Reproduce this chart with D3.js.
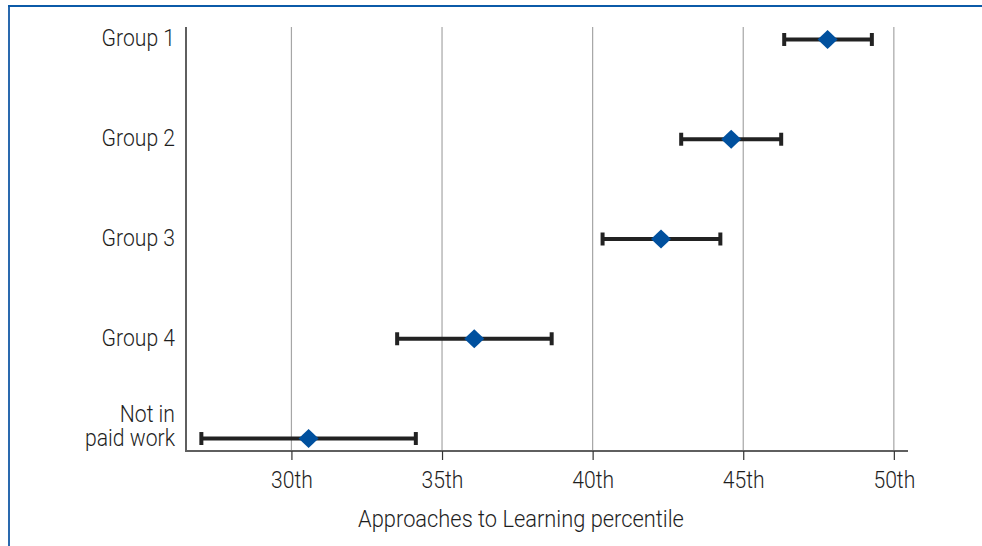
<!DOCTYPE html>
<html>
<head>
<meta charset="utf-8">
<script src="https://cdn.jsdelivr.net/npm/d3@7"></script>
<style>
  html, body { margin: 0; padding: 0; background: #fff; }
  svg { display: block; }
  text { font-family: Roboto, "Open Sans", sans-serif; font-weight: 300; fill: #1e1e1e; }
</style>
</head>
<body>
<svg id="chart" width="982" height="546"></svg>
<script>
// Groups, top to bottom (labels may wrap onto two lines)
const groups = ["Group 1", "Group 2", "Group 3", "Group 4", "Not in\npaid work"];
// Point estimate and confidence interval (percentile)
const estimates = [47.8, 44.6, 42.27, 36.07, 30.57];
const lowerBounds = [46.36, 42.94, 40.33, 33.51, 27.01];
const upperBounds = [49.27, 46.26, 44.24, 38.64, 34.13];
// Axis ticks
const tickValues = [30, 35, 40, 45, 50];
const tickLabels = ["30th", "35th", "40th", "45th", "50th"];
const xTitle = "Approaches to Learning percentile";

const rows = groups.map((g, i) => ({
  group: g, est: estimates[i], lo: lowerBounds[i], hi: upperBounds[i]
}));

const svg = d3.select("#chart");
const plot = { left: 186, right: 908, top: 27, bottom: 451 };
const fontSize = 23;
const narrow = "scale(0.92,1)";   // condensed look for the labels

const x = d3.scaleLinear()
  .domain([26.5, 50.47])
  .range([plot.left, plot.right]);
const y = d3.scalePoint()
  .domain(groups)
  .range([plot.top, plot.bottom])
  .padding(0.125);

// Frame lines on the left and top edges
svg.append("line")
  .attr("x1", 9).attr("x2", 9).attr("y1", 5).attr("y2", 546)
  .attr("stroke", "#2a69ae").attr("stroke-width", 2);
svg.append("line")
  .attr("x1", 8).attr("x2", 982).attr("y1", 6).attr("y2", 6)
  .attr("stroke", "#0b5aa8").attr("stroke-width", 2);

// Vertical gridlines
svg.append("g")
  .selectAll("line")
  .data(tickValues)
  .join("line")
  .attr("x1", d => x(d)).attr("x2", d => x(d))
  .attr("y1", plot.top).attr("y2", plot.bottom)
  .attr("stroke", "#a6a6a6").attr("stroke-width", 1.2);

// Bottom axis
const xAxis = d3.axisBottom(x)
  .tickValues(tickValues)
  .tickFormat((d, i) => tickLabels[i])
  .tickSize(9)
  .tickPadding(11)
  .tickSizeOuter(0);
const gx = svg.append("g")
  .attr("transform", `translate(0,${plot.bottom})`)
  .call(xAxis);
gx.attr("font-family", null);
gx.select(".domain").attr("stroke", "#5f5f5f").attr("stroke-width", 2)
  .attr("d", `M${plot.left},0H${plot.right}`);
gx.selectAll(".tick line").attr("stroke", "#333").attr("stroke-width", 1.2);
gx.selectAll(".tick text")
  .attr("font-size", fontSize)
  .attr("fill", "#1e1e1e")
  .attr("dy", "0.76em")
  .attr("transform", narrow);

// Left axis line
svg.append("line")
  .attr("x1", plot.left).attr("x2", plot.left)
  .attr("y1", plot.top).attr("y2", plot.bottom + 1)
  .attr("stroke", "#5f5f5f").attr("stroke-width", 2);

// Category labels, right-aligned against the axis
const lh = 24;
svg.append("g")
  .selectAll("text")
  .data(rows)
  .join("text")
  .attr("text-anchor", "end")
  .attr("font-size", fontSize)
  .attr("transform", d => {
    const n = d.group.split("\n").length;
    return `translate(175,${y(d.group) + 7 - (n - 1) * lh}) ${narrow}`;
  })
  .each(function(d) {
    const t = d3.select(this);
    d.group.split("\n").forEach((ln, k) => {
      t.append("tspan").attr("x", 0).attr("y", k * lh).text(ln);
    });
  });

// Error bars
const bars = svg.append("g");
bars.selectAll("line.ci")
  .data(rows)
  .join("line")
  .attr("class", "ci")
  .attr("x1", d => x(d.lo)).attr("x2", d => x(d.hi))
  .attr("y1", d => y(d.group)).attr("y2", d => y(d.group))
  .attr("stroke", "#222").attr("stroke-width", 4);
bars.selectAll("line.cap")
  .data(rows.flatMap(d => [{ g: d.group, v: d.lo }, { g: d.group, v: d.hi }]))
  .join("line")
  .attr("class", "cap")
  .attr("x1", d => x(d.v)).attr("x2", d => x(d.v))
  .attr("y1", d => y(d.g) - 6.5).attr("y2", d => y(d.g) + 6.5)
  .attr("stroke", "#222").attr("stroke-width", 4);

// Point estimates as diamonds
svg.append("g")
  .selectAll("path")
  .data(rows)
  .join("path")
  .attr("transform", d => `translate(${x(d.est)},${y(d.group)})`)
  .attr("d", "M0,-9.5L10,0L0,9.5L-10,0Z")
  .attr("fill", "#00509e");

// Axis title
svg.append("text")
  .attr("transform", "translate(521,527) scale(0.95,1)")
  .attr("text-anchor", "middle")
  .attr("font-size", fontSize)
  .text(xTitle);
</script>
</body>
</html>
